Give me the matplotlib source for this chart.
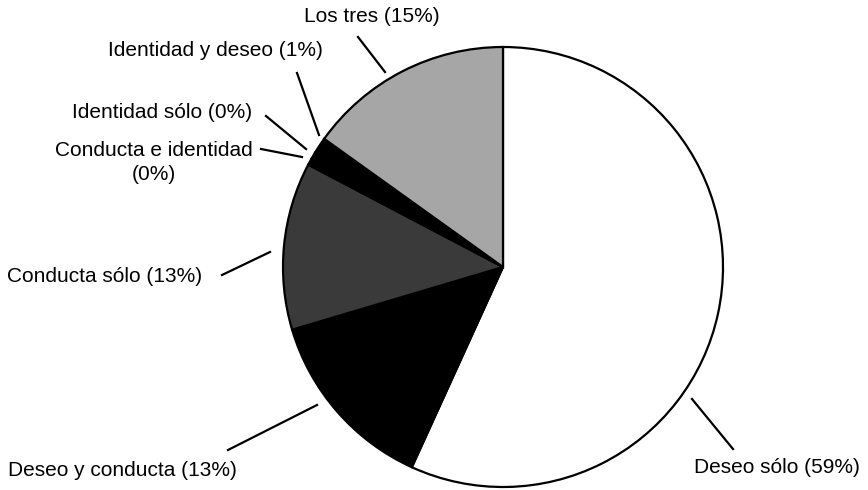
import matplotlib
matplotlib.use("Agg")
import matplotlib.pyplot as plt

plt.rcParams['font.family'] = ['Liberation Sans', 'DejaVu Sans']

# slice shares (clockwise from 12 o'clock)
categories = ["Deseo sólo", "Deseo y conducta", "Conducta sólo",
              "Conducta e identidad", "Identidad sólo", "Identidad y deseo", "Los tres"]
shares = [56.8, 13.6, 12.3, 0.5, 0.5, 1.2, 15.1]
labels = ["Deseo sólo (59%)", "Deseo y conducta (13%)", "Conducta sólo (13%)",
          "Conducta e identidad\n(0%)", "Identidad sólo (0%)", "Identidad y deseo (1%)",
          "Los tres (15%)"]
fills = ["white", "black", "#3a3a3a", "black", "black", "black", "#a6a6a6"]

W, H = 868, 490
FS = 15
fig = plt.figure(figsize=(W / 100, H / 100), dpi=100)
ax = fig.add_axes([0, 0, 1, 1])

def Y(y):  # image pixel row -> axis y
    return H - y

ax.pie(shares, colors=fills, startangle=90, counterclock=False,
       center=(503, Y(267)), radius=220,
       wedgeprops=dict(edgecolor="black", linewidth=1.6))
ax.set_xlim(0, W)
ax.set_ylim(0, H)
ax.set_aspect('equal')
ax.axis('off')

# label text anchor (x, y, ha) and leader line (x0, y0, x1, y1) in pixels
text_pos = [(860, 467, 'right'), (8, 470, 'left'), (7, 277, 'left'),
            (253, 150, 'right'), (252, 112, 'right'), (323, 51, 'right'),
            (440, 17, 'right')]
leaders = [(692, 399, 733, 449), (317, 405, 228, 450), (270, 252, 222, 275),
           (302, 157, 261, 149), (306, 149, 266, 116), (319, 135, 297, 73),
           (385, 72, 358, 37)]

for lab, (tx, ty, ha), (x0, y0, x1, y1) in zip(labels, text_pos, leaders):
    if "\n" in lab:
        first, second = lab.split("\n")
        ax.text(tx, Y(ty), first, ha=ha, va='center', fontsize=FS)
        ax.text(154, Y(ty + 25), second, ha='center', va='center', fontsize=FS)
    else:
        ax.text(tx, Y(ty), lab, ha=ha, va='center', fontsize=FS)
    ax.plot([x0, x1], [Y(y0), Y(y1)], color="black", linewidth=1.6)

fig.savefig("out.png", dpi=100, facecolor="white")
